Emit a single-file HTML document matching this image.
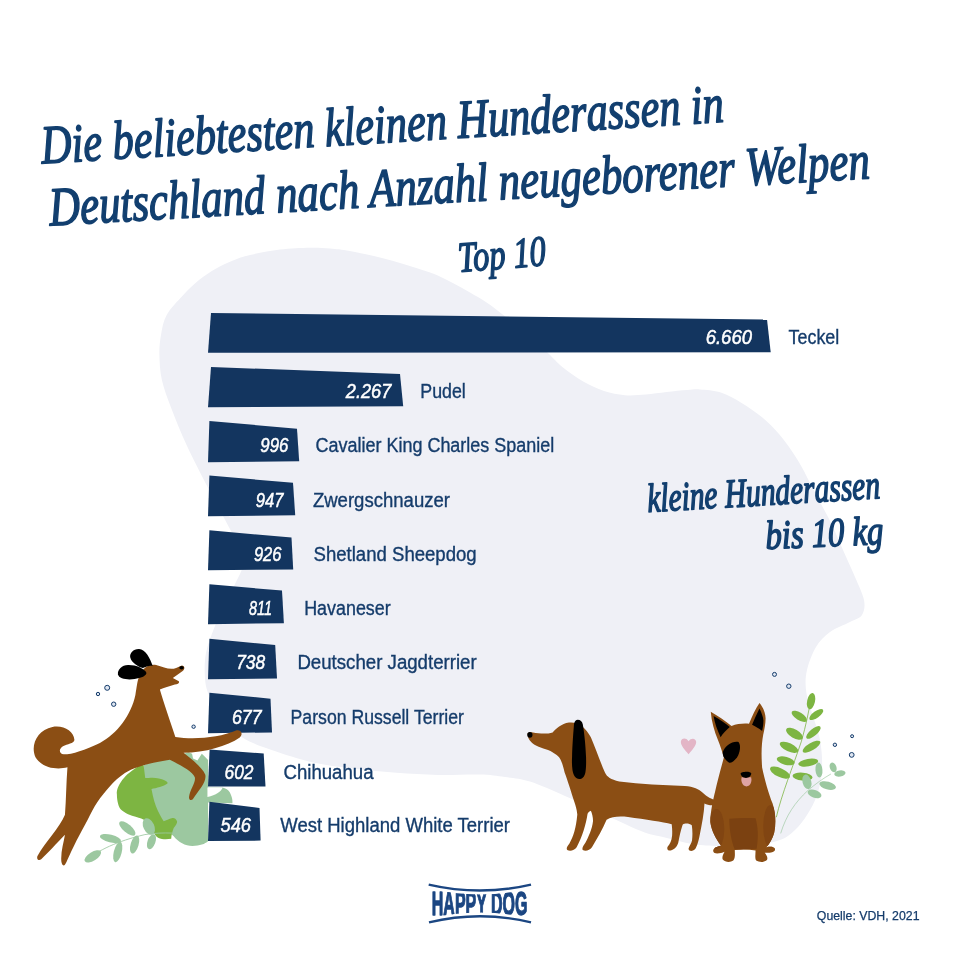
<!DOCTYPE html>
<html lang="de"><head><meta charset="utf-8"><title>Die beliebtesten kleinen Hunderassen in Deutschland</title>
<style>html,body{margin:0;padding:0;background:#fff}body{width:961px;height:961px;overflow:hidden}svg{display:block}.lab{font-family:"Liberation Sans",sans-serif;font-size:20px;fill:#153c6b;stroke:#153c6b;stroke-width:.35px}.num{font-family:"Liberation Sans",sans-serif;font-style:italic;font-size:20px;fill:#fff;stroke:#fff;stroke-width:.5px}.scr{font-family:"Liberation Serif",serif;font-style:italic;font-weight:normal;fill:#123f6f;stroke:#123f6f;stroke-width:1.2px;stroke-linejoin:round}</style></head><body>
<svg width="961" height="961" viewBox="0 0 961 961">
<rect width="961" height="961" fill="#fff"/>
<path d="M309.8,247.7 C318.1,247.5 323.3,247.9 330.0,248.5 C336.7,249.1 341.0,249.4 349.8,251.0 C358.6,252.6 371.3,255.3 383.0,258.3 C394.7,261.3 411.1,266.4 420.0,269.2 C428.9,272.0 431.1,272.6 436.7,275.0 C442.2,277.4 447.8,280.4 453.3,283.3 C458.9,286.2 464.4,289.3 470.0,292.5 C475.6,295.7 481.1,298.8 486.6,302.5 C492.2,306.2 496.9,309.9 503.3,315.0 C509.7,320.1 517.6,326.7 525.0,333.0 C532.4,339.3 541.7,347.3 547.9,353.0 C554.1,358.7 556.5,362.2 562.4,367.0 C568.3,371.8 576.3,377.6 583.2,381.6 C590.1,385.6 597.0,388.7 604.0,391.0 C611.0,393.3 617.9,394.6 624.9,395.2 C631.9,395.8 638.8,395.0 645.7,394.5 C652.6,394.0 659.6,392.8 666.5,392.0 C673.4,391.2 681.7,390.4 687.3,390.0 C692.9,389.6 694.4,389.0 700.0,389.4 C705.6,389.8 713.9,390.2 720.8,392.5 C727.7,394.8 734.7,398.7 741.6,402.9 C748.5,407.1 756.2,412.3 762.4,417.5 C768.6,422.7 774.1,428.4 779.0,434.0 C783.9,439.6 787.8,445.2 791.6,450.8 C795.4,456.4 799.2,462.5 802.0,467.4 C804.8,472.3 805.5,474.2 808.5,480.0 C811.5,485.8 816.1,494.5 820.0,502.0 C823.9,509.5 828.2,517.0 832.0,525.0 C835.8,533.0 839.2,541.3 843.0,550.0 C846.8,558.7 851.5,568.7 855.0,577.0 C858.5,585.3 862.8,593.7 864.0,600.0 C865.2,606.3 864.3,611.3 862.0,615.0 C859.7,618.7 855.3,619.2 850.0,622.0 C844.7,624.8 835.7,627.8 830.0,632.0 C824.3,636.2 819.8,640.7 816.0,647.0 C812.2,653.3 808.7,662.8 807.0,670.0 C805.3,677.2 805.3,683.3 806.0,690.0 C806.7,696.7 808.7,701.7 811.0,710.0 C813.3,718.3 818.2,730.0 820.0,740.0 C821.8,750.0 822.5,760.8 822.0,770.0 C821.5,779.2 819.5,787.5 817.0,795.0 C814.5,802.5 810.7,809.2 807.0,815.0 C803.3,820.8 799.5,825.8 795.0,830.0 C790.5,834.2 787.5,837.3 780.0,840.0 C772.5,842.7 763.3,845.2 750.0,846.0 C736.7,846.8 714.5,846.5 700.0,845.0 C685.5,843.5 672.8,839.3 663.0,837.0 C653.2,834.7 652.0,835.3 641.0,831.0 C630.0,826.7 609.7,816.8 597.0,811.0 C584.3,805.2 576.2,800.9 565.0,796.0 C553.8,791.1 540.0,784.7 530.0,781.5 C520.0,778.3 513.4,778.2 505.0,777.0 C496.6,775.8 490.9,774.8 479.7,774.5 C468.5,774.2 451.9,775.3 438.0,775.0 C424.1,774.7 410.4,773.8 396.5,772.8 C382.6,771.8 368.8,770.4 354.9,768.7 C341.0,767.0 327.1,765.5 313.2,762.4 C299.3,759.3 283.4,754.1 271.6,750.0 C259.8,745.9 250.8,742.8 242.5,737.5 C234.2,732.2 227.6,725.1 222.0,718.0 C216.4,710.9 211.8,701.7 209.0,695.0 C206.2,688.3 205.5,685.0 205.0,678.0 C204.5,671.0 204.3,661.7 206.0,653.0 C207.7,644.3 211.5,634.8 215.0,626.0 C218.5,617.2 223.5,607.3 227.0,600.0 C230.5,592.7 233.3,587.8 236.0,582.0 C238.7,576.2 242.3,570.7 243.0,565.0 C243.7,559.3 242.1,553.8 240.0,548.0 C237.9,542.2 235.7,539.8 230.5,530.0 C225.3,520.2 216.0,503.1 208.7,489.0 C201.4,474.9 193.1,458.9 186.8,445.4 C180.6,431.9 175.3,418.9 171.2,408.0 C167.0,397.1 163.9,388.8 161.9,379.9 C159.9,371.0 159.6,362.4 159.4,354.9 C159.2,347.4 159.8,341.6 161.0,335.0 C162.2,328.4 163.0,321.7 166.7,315.0 C170.4,308.3 177.9,300.8 183.3,295.0 C188.7,289.2 193.4,284.4 199.0,280.0 C204.6,275.6 210.9,271.6 216.6,268.3 C222.3,265.1 227.4,262.7 233.0,260.5 C238.6,258.3 242.2,256.8 250.0,255.0 C257.8,253.2 270.0,250.7 280.0,249.5 C290.0,248.3 301.5,247.9 309.8,247.7 Z" fill="#eff0f6"/>
<g transform="translate(130,735) scale(0.12487)">
<path fill="#9cc8a0" d="M110,240 L300,180 L430,150 L470,138 L497,150 L505,188 L540,205 L575,150 L600,175 L625,200 L625,420 L740,420 C765,425 790,438 800,460 C815,490 823,520 820,546 L625,540 L625,850 C600,872 560,886 500,888 C440,885 390,860 350,810 L110,600 Z"/>
<path fill="#fff" d="M620,420 L742,420 C730,452 690,482 620,496 Z"/>
<path fill="#7db542" d="M90,235 C40,270 -20,310 -45,340 C-90,390 -110,440 -105,475 C-105,530 -90,580 -75,595 C-40,630 10,645 45,655 C80,665 105,675 120,685 C150,710 165,740 180,760 C195,790 205,810 225,822 C260,838 300,835 330,830 C332,800 340,770 350,745 C365,725 380,705 377,690 C370,670 350,660 340,665 C310,672 290,685 270,690 C250,660 235,630 225,610 C200,560 185,500 172,432 C210,425 270,410 300,388 C305,380 295,372 280,365 C240,345 190,340 150,345 L122,345 C118,310 112,270 110,245 Z"/>
</g>
<g transform="translate(70,740) scale(0.18730)">
<path fill="none" stroke="#9cc8a0" stroke-width="4.5" d="M90,640 C150,590 250,540 400,505 C450,497 500,495 545,497"/>
<ellipse cx="122" cy="621" rx="50" ry="23" transform="rotate(-32 122 621)" fill="#9cc8a0"/>
<ellipse cx="216" cy="526" rx="58" ry="21" transform="rotate(14 216 526)" fill="#9cc8a0"/>
<ellipse cx="255" cy="598" rx="21" ry="56" transform="rotate(14 255 598)" fill="#9cc8a0"/>
<ellipse cx="306" cy="472" rx="54" ry="22" transform="rotate(40 306 472)" fill="#9cc8a0"/>
<ellipse cx="345" cy="558" rx="21" ry="50" transform="rotate(17 345 558)" fill="#9cc8a0"/>
<ellipse cx="421" cy="462" rx="29" ry="47" transform="rotate(-25 421 462)" fill="#9cc8a0"/>
<ellipse cx="435" cy="543" rx="21" ry="42" transform="rotate(20 435 543)" fill="#9cc8a0"/>
</g>
<polygon points="211,313 767,319.5 770.7,352.2 208,352.7" fill="#13355f"/>
<polygon points="211,367 400,374 403.2,406.2 208,407.2" fill="#13355f"/>
<polygon points="209.4,421 297,428.7 299.2,461.2 208,462.2" fill="#13355f"/>
<polygon points="209.4,475.6 293,482.8 295.2,515.2 208,516.2" fill="#13355f"/>
<polygon points="209.4,530.3 291.5,537.5 293.2,569.5 208,570.2" fill="#13355f"/>
<polygon points="209.4,584.3 282,590.6 283.9,623.2 208,624.2" fill="#13355f"/>
<polygon points="209.4,638.7 275.2,645 277,678.6 208,679.2" fill="#13355f"/>
<polygon points="209.4,692.7 270.5,698.7 272,732.4 208,733.2" fill="#13355f"/>
<polygon points="209.6,749.4 263.7,753.6 265.5,786.4 208,786.5" fill="#13355f"/>
<polygon points="209.4,801.7 259.5,808 260.6,840.6 208,841" fill="#13355f"/>
<text class="num" x="705.7" y="343.7" textLength="46.3" lengthAdjust="spacingAndGlyphs">6.660</text>
<text class="num" x="345.8" y="398" textLength="45.5" lengthAdjust="spacingAndGlyphs">2.267</text>
<text class="num" x="260.3" y="452.2" textLength="28.1" lengthAdjust="spacingAndGlyphs">996</text>
<text class="num" x="255.8" y="506.7" textLength="27.6" lengthAdjust="spacingAndGlyphs">947</text>
<text class="num" x="253.9" y="561" textLength="27.5" lengthAdjust="spacingAndGlyphs">926</text>
<text class="num" x="249.1" y="615" textLength="23" lengthAdjust="spacingAndGlyphs">811</text>
<text class="num" x="236.2" y="669" textLength="28.9" lengthAdjust="spacingAndGlyphs">738</text>
<text class="num" x="232" y="724" textLength="29.6" lengthAdjust="spacingAndGlyphs">677</text>
<text class="num" x="224.5" y="778.5" textLength="29" lengthAdjust="spacingAndGlyphs">602</text>
<text class="num" x="220.6" y="832" textLength="30.4" lengthAdjust="spacingAndGlyphs">546</text>
<text class="lab" x="788.6" y="343.7" textLength="50.7" lengthAdjust="spacingAndGlyphs">Teckel</text>
<text class="lab" x="420.3" y="398" textLength="45.5" lengthAdjust="spacingAndGlyphs">Pudel</text>
<text class="lab" x="315.5" y="452.2" textLength="238.8" lengthAdjust="spacingAndGlyphs">Cavalier King Charles Spaniel</text>
<text class="lab" x="312.9" y="506.7" textLength="137.1" lengthAdjust="spacingAndGlyphs">Zwergschnauzer</text>
<text class="lab" x="313.5" y="561" textLength="163.2" lengthAdjust="spacingAndGlyphs">Shetland Sheepdog</text>
<text class="lab" x="304.2" y="615" textLength="86.5" lengthAdjust="spacingAndGlyphs">Havaneser</text>
<text class="lab" x="297.4" y="669" textLength="179.3" lengthAdjust="spacingAndGlyphs">Deutscher Jagdterrier</text>
<text class="lab" x="290.6" y="724" textLength="173.3" lengthAdjust="spacingAndGlyphs">Parson Russell Terrier</text>
<text class="lab" x="283.5" y="778.5" textLength="90" lengthAdjust="spacingAndGlyphs">Chihuahua</text>
<text class="lab" x="280.3" y="832" textLength="229.7" lengthAdjust="spacingAndGlyphs">West Highland White Terrier</text>
<g transform="translate(20,630) scale(0.24974)">
<path fill="#8b4e14" d="M478,185 C490,150 520,135 545,140 C575,148 600,162 625,152 L648,142 C660,142 662,158 650,165 L612,192 L636,205 C640,212 632,218 620,218 C600,225 575,232 560,238 C575,290 600,360 622,428 C700,440 800,430 865,402 C885,398 895,415 880,430 C830,465 740,490 655,492 C690,520 730,550 742,580 C748,610 715,640 692,678 C685,685 675,680 677,668 C680,640 705,610 700,590 C690,565 640,540 600,520 C520,532 455,550 420,573 C395,590 378,606 361,625 C340,648 325,668 310,689 C295,712 283,735 271,760 C255,790 240,818 226,844 C212,872 200,898 190,920 C186,930 182,938 178,942 C170,945 165,935 165,915 C165,880 175,850 180,820 C150,850 110,895 85,918 C75,925 65,918 70,905 C100,850 160,790 180,740 C185,680 185,610 190,550 C150,560 90,555 62,510 C40,460 70,400 130,388 C175,380 215,405 218,440 C215,455 190,455 172,465 C155,475 155,495 175,498 C210,498 260,480 320,452 C390,415 445,340 462,260 C468,225 470,200 478,185 Z"/>
<g transform="translate(320.3,40.04) scale(0.62494)" fill="#000">
<path d="M338,166 C322,118 292,58 250,57 C214,56 188,84 194,112 C202,145 245,172 275,180 C295,172 315,162 338,166 Z"/>
<path d="M298,212 C282,180 232,159 180,160 C140,161 111,190 115,220 C121,252 180,256 222,250 C262,244 291,235 298,212 Z"/>
</g>
<ellipse cx="647" cy="151" rx="9" ry="7" fill="#000"/>
</g>
<g transform="translate(510,680) scale(0.21852)">
<path fill="#8b4e14" d="M80,245 C85,238 95,238 105,240 C135,246 170,248 195,240 C210,225 235,200 270,195 C310,190 345,215 370,262 C395,320 415,380 435,425 C445,445 460,455 500,465 C600,478 700,482 800,485 C840,488 865,500 882,516 C900,535 925,545 942,552 C950,560 945,572 930,573 C915,574 900,570 890,565 C888,610 878,660 868,710 C862,740 855,765 845,776 C835,785 818,784 817,772 C820,760 830,750 833,735 C836,710 835,685 832,665 C820,655 800,655 790,662 C780,690 775,720 770,745 C765,762 755,775 735,780 C722,782 716,772 722,762 C732,750 740,735 742,710 C743,690 742,675 740,660 C700,650 620,638 540,627 C500,622 465,625 442,640 C425,680 400,725 375,765 C365,780 345,785 333,778 C328,770 335,760 345,745 C360,715 375,685 380,645 C380,625 375,610 370,598 C365,600 358,605 355,612 C348,660 330,720 305,765 C295,780 275,785 262,778 C256,770 262,760 272,748 C290,715 302,680 308,615 C305,590 300,575 295,560 C280,510 262,455 250,423 C244,398 240,385 236,375 C230,358 222,348 212,342 C200,334 190,325 174,320 C160,316 145,312 131,306 C118,300 105,292 98,285 C88,275 80,262 80,245 Z"/>
<ellipse cx="91" cy="251" rx="12" ry="13" fill="#000"/>
<path fill="#000" d="M310,182 C322,182 330,190 333,202 C340,240 346,300 348,352 C349,385 348,405 345,423 C340,445 330,453 317,453 C300,453 290,435 286,413 C283,390 283,370 284,352 C285,300 290,240 293,200 C296,188 302,182 310,182 Z"/>
<path fill="#e3b5c6" d="M817,340 C800,320 780,300 782,282 C784,266 805,262 817,280 C829,262 852,266 852,284 C852,302 832,322 817,340 Z"/>
</g>
<g transform="translate(690,680) scale(0.21852)">
<path fill="none" stroke="#7db542" stroke-width="3.6" d="M395,628 C420,520 470,400 510,280 C530,210 545,140 555,75"/>
<ellipse cx="554" cy="97" rx="18" ry="38" transform="rotate(12 554 97)" fill="#7db542"/>
<ellipse cx="500" cy="166" rx="40" ry="17" transform="rotate(32 500 166)" fill="#7db542"/>
<ellipse cx="578" cy="158" rx="38" ry="15" transform="rotate(-36 578 158)" fill="#7db542"/>
<ellipse cx="478" cy="246" rx="43" ry="20" transform="rotate(30 478 246)" fill="#7db542"/>
<ellipse cx="565" cy="240" rx="41" ry="16" transform="rotate(-40 565 240)" fill="#7db542"/>
<ellipse cx="453" cy="308" rx="46" ry="19" transform="rotate(25 453 308)" fill="#7db542"/>
<ellipse cx="556" cy="305" rx="46" ry="17" transform="rotate(-30 556 305)" fill="#7db542"/>
<ellipse cx="438" cy="370" rx="42" ry="18" transform="rotate(15 438 370)" fill="#7db542"/>
<ellipse cx="541" cy="378" rx="46" ry="17" transform="rotate(-10 541 378)" fill="#7db542"/>
<ellipse cx="412" cy="424" rx="50" ry="20" transform="rotate(25 412 424)" fill="#7db542"/>
<ellipse cx="515" cy="442" rx="46" ry="18" transform="rotate(5 515 442)" fill="#7db542"/>
<path fill="none" stroke="#9cc8a0" stroke-width="3" d="M415,702 C440,620 480,560 540,505 C575,475 610,450 645,430"/>
<ellipse cx="590" cy="412" rx="16" ry="34" transform="rotate(-5 590 412)" fill="#9cc8a0"/>
<ellipse cx="535" cy="466" rx="20" ry="34" transform="rotate(-15 535 466)" fill="#9cc8a0"/>
<ellipse cx="655" cy="400" rx="15" ry="23" transform="rotate(-20 655 400)" fill="#9cc8a0"/>
<ellipse cx="686" cy="428" rx="26" ry="14" transform="rotate(-10 686 428)" fill="#9cc8a0"/>
<ellipse cx="630" cy="483" rx="39" ry="18" transform="rotate(15 630 483)" fill="#9cc8a0"/>
<ellipse cx="570" cy="521" rx="33" ry="18" transform="rotate(20 570 521)" fill="#9cc8a0"/>
<path fill="#8b4e14" d="M95,145 C130,165 165,190 190,210 C215,200 245,198 270,200 C285,165 300,130 318,105 C335,125 345,150 346,175 C346,200 340,230 335,250 C328,290 325,330 330,400 C340,450 360,520 378,565 C392,610 395,655 385,700 C378,725 365,748 350,765 C365,762 380,762 388,770 C392,780 385,788 365,790 C355,792 348,790 342,790 C350,800 358,812 352,824 C340,836 315,834 303,826 C296,815 300,795 300,780 C270,775 235,774 205,778 C205,795 208,815 198,826 C185,836 160,834 150,822 C145,810 152,798 158,786 C145,792 125,796 112,792 C102,785 105,772 118,765 C128,760 135,760 142,758 C120,730 98,690 93,650 C92,610 105,550 115,510 C125,465 140,410 155,355 C148,330 138,300 128,275 C112,235 98,190 95,145 Z"/>
<clipPath id="sb"><path d="M95,145 C130,165 165,190 190,210 C215,200 245,198 270,200 C285,165 300,130 318,105 C335,125 345,150 346,175 C346,200 340,230 335,250 C328,290 325,330 330,400 C340,450 360,520 378,565 C392,610 395,655 385,700 C378,725 365,748 350,765 C365,762 380,762 388,770 C392,780 385,788 365,790 C355,792 348,790 342,790 C350,800 358,812 352,824 C340,836 315,834 303,826 C296,815 300,795 300,780 C270,775 235,774 205,778 C205,795 208,815 198,826 C185,836 160,834 150,822 C145,810 152,798 158,786 C145,792 125,796 112,792 C102,785 105,772 118,765 C128,760 135,760 142,758 C120,730 98,690 93,650 C92,610 105,550 115,510 C125,465 140,410 155,355 C148,330 138,300 128,275 C112,235 98,190 95,145 Z"/></clipPath>
<g clip-path="url(#sb)" fill="#814512"><ellipse cx="121" cy="682" rx="36" ry="92"/><ellipse cx="368" cy="670" rx="33" ry="98"/></g>
<path fill="#7b4111" d="M180,635 C220,630 265,630 300,633 C310,670 315,710 305,772 C270,775 235,774 205,776 C190,740 180,690 180,635 Z"/>
<path fill="#000" d="M108,165 C135,180 160,198 182,215 C165,230 150,245 140,262 C125,230 112,195 108,165 Z"/>
<path fill="#000" d="M318,130 C328,150 335,170 336,185 C336,205 333,220 330,233 C315,222 298,212 284,205 C294,180 305,155 318,130 Z"/>
<path fill="#000" d="M150,330 C160,300 195,278 222,284 C235,300 228,335 215,355 C200,375 185,382 178,378 C160,365 148,350 150,330 Z"/>
<path fill="#dfa3a3" d="M236,445 L280,445 C284,465 278,485 258,487 C240,485 232,465 236,445 Z"/>
<path fill="#000" d="M232,428 C232,418 280,415 280,428 C280,440 268,448 256,448 C244,448 232,440 232,428 Z"/>
</g>
<circle cx="107.2" cy="687.8" r="2.5" fill="#dfe6f1" stroke="#153c6b" stroke-width="1"/>
<circle cx="98" cy="694" r="1.7" fill="#dfe6f1" stroke="#153c6b" stroke-width="1"/>
<circle cx="113.7" cy="704.2" r="2.2" fill="#dfe6f1" stroke="#153c6b" stroke-width="1"/>
<circle cx="193.6" cy="726.7" r="1.7" fill="#dfe6f1" stroke="#153c6b" stroke-width="1"/>
<circle cx="774.5" cy="674.4" r="2" fill="#dfe6f1" stroke="#153c6b" stroke-width="1"/>
<circle cx="788.8" cy="686.2" r="2.2" fill="#dfe6f1" stroke="#153c6b" stroke-width="1"/>
<circle cx="834.9" cy="744.8" r="1.7" fill="#dfe6f1" stroke="#153c6b" stroke-width="1"/>
<circle cx="852.1" cy="736.2" r="1.5" fill="#dfe6f1" stroke="#153c6b" stroke-width="1"/>
<circle cx="851.7" cy="754.9" r="2.4" fill="#dfe6f1" stroke="#153c6b" stroke-width="1"/>
<text class="scr" font-size="41" transform="translate(42,163.5) rotate(-3.5) scale(1,1.33)" textLength="684" lengthAdjust="spacingAndGlyphs">Die beliebtesten kleinen Hunderassen in</text>
<text class="scr" font-size="41" transform="translate(50,225.5) rotate(-3.3) scale(1,1.33)" textLength="822" lengthAdjust="spacingAndGlyphs">Deutschland nach Anzahl neugeborener Welpen</text>
<text class="scr" font-size="33" transform="translate(459,272) rotate(-4.5) scale(1,1.3)" textLength="88" lengthAdjust="spacingAndGlyphs">Top 10</text>
<text class="scr" font-size="30" transform="translate(648,512) rotate(-3.4) scale(1,1.35)" textLength="233" lengthAdjust="spacingAndGlyphs">kleine Hunderassen</text>
<text class="scr" font-size="30" transform="translate(766,549) rotate(-2.5) scale(1,1.35)" textLength="118" lengthAdjust="spacingAndGlyphs">bis 10 kg</text>
<g fill="none" stroke="#1b4682" stroke-width="2.4"><path d="M428.7,884.6 Q480,896.5 531,884.6"/><path d="M429,922.4 Q480,910.2 531,922.4"/></g>
<clipPath id="bow"><path d="M428,888.5 Q480,900.3 532,888.5 L532,918.4 Q480,906.4 428,918.4 Z"/></clipPath>
<g clip-path="url(#bow)"><text x="431.8" y="915.2" textLength="95.6" lengthAdjust="spacingAndGlyphs" font-family="'Liberation Sans',sans-serif" font-weight="bold" font-size="33" fill="#1b4682" stroke="#1b4682" stroke-width="1.3" stroke-linejoin="round">HAPPY DOG</text></g>
<text x="816.8" y="919.5" textLength="102.7" lengthAdjust="spacingAndGlyphs" font-family="'Liberation Sans',sans-serif" font-size="12.9" fill="#153c6b" stroke="#153c6b" stroke-width=".25">Quelle: VDH, 2021</text>
</svg></body></html>
